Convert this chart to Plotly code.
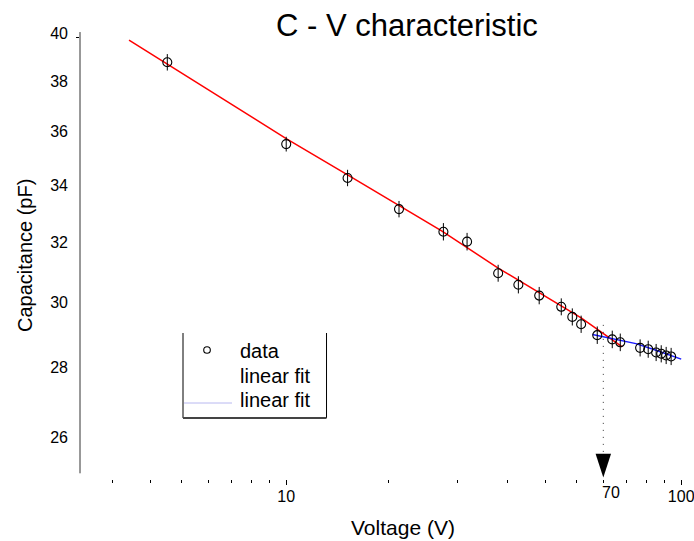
import math
import plotly.graph_objects as go

# ---------------- data ----------------
voltage = [5.0, 10.0, 14.3, 19.3, 25.0, 28.7, 34.4, 38.7, 43.7, 49.7, 53.0,
           55.8, 61.3, 66.9, 70.1, 78.7, 82.5, 86.4, 89.0, 91.6, 94.3]
capacitance = [38.77, 35.53, 34.27, 33.15, 32.36, 32.02, 30.96, 30.58, 30.23,
               29.87, 29.55, 29.32, 28.98, 28.85, 28.76, 28.59, 28.55, 28.45,
               28.41, 28.36, 28.33]
cap_err = [0.34, 0.28, 0.30, 0.29, 0.30, 0.30, 0.28, 0.28, 0.28, 0.27, 0.27,
           0.27, 0.27, 0.27, 0.27, 0.26, 0.26, 0.26, 0.26, 0.26, 0.26]

fit1_v = [4.0, 10.0, 14.3, 24.8, 34.4, 43.5, 55.8, 70.9]
fit1_c = [39.70, 35.74, 34.38, 32.38, 31.13, 30.34, 29.52, 28.62]

fit2_v = [59.6, 76.8, 86.3, 100.0]
fit2_c = [29.00, 28.72, 28.52, 28.25]

knee_v = 63.5
knee_label = "70"
knee_c_top = 29.30
knee_c_bottom = 25.31
arrow_tip_c = 24.90

x_major = [10, 100]
x_major_text = ["10", "100"]
x_minor_base = [4, 5, 6, 7, 8, 9, 10, 20, 30, 40, 50, 60, 70, 80, 90, 100]
minor_shift = 0.906
y_major = [26, 28, 30, 32, 34, 36, 38, 40]
y_minor = [39.79]
y_spine_bottom = 25.01

FONT = "Liberation Sans, Arial, sans-serif"

# plot-area geometry
X_RANGE = [0.47795, 2.002]
Y_RANGE = [1.39548, 1.60252]

fig = go.Figure()

fig.add_trace(go.Scatter(
    x=fit1_v, y=fit1_c, mode="lines",
    line=dict(color="#ff0000", width=1.5), showlegend=False))
fig.add_trace(go.Scatter(
    x=fit2_v, y=fit2_c, mode="lines",
    line=dict(color="#1a1aff", width=1.5), showlegend=False))
fig.add_trace(go.Scatter(
    x=voltage, y=capacitance, mode="markers",
    marker=dict(symbol="circle-open", size=9, color="black",
                line=dict(width=1.1, color="black")),
    error_y=dict(type="data", array=cap_err, visible=True,
                 color="black", thickness=1, width=0),
    showlegend=False))

# knee marker: dotted drop line + arrow head
fig.add_trace(go.Scatter(
    x=[knee_v, knee_v], y=[knee_c_top, knee_c_bottom], mode="lines",
    line=dict(color="#333333", width=1, dash="1px,6px"),
    showlegend=False, cliponaxis=False))
fig.add_trace(go.Scatter(
    x=[knee_v], y=[arrow_tip_c], mode="markers",
    marker=dict(symbol="arrow", angle=180, size=25, color="black",
                line=dict(width=0)),
    showlegend=False, cliponaxis=False))

fig.add_annotation(x=math.log10(knee_v), xref="x", xshift=8,
                   y=-0.0291, yref="paper", yanchor="middle",
                   text=knee_label, showarrow=False,
                   font=dict(family=FONT, size=16, color="black"))

# y-axis spine (stops at the 25 pF level, above the x ticks)
fig.add_shape(type="line", xref="paper", yref="y",
              x0=0, x1=0, y0=y_spine_bottom, y1=40.04,
              line=dict(color="#333333", width=1))

# ---------------- legend (drawn by hand) ----------------
box = dict(x0=0.1711, x1=0.4095, y0=0.1365, y1=0.3266)
fig.add_shape(type="line", xref="paper", yref="paper",
              x0=box["x0"], x1=box["x0"], y0=box["y0"], y1=box["y1"],
              line=dict(color="black", width=1))
fig.add_shape(type="line", xref="paper", yref="paper",
              x0=box["x1"], x1=box["x1"], y0=box["y0"], y1=box["y1"],
              line=dict(color="black", width=1))
fig.add_shape(type="line", xref="paper", yref="paper",
              x0=box["x0"], x1=box["x1"], y0=box["y0"], y1=box["y0"],
              line=dict(color="#444444", width=2))
fig.add_shape(type="line", xref="paper", yref="paper",
              x0=0.1728, x1=0.2525, y0=0.1700, y1=0.1700,
              line=dict(color="#b8b8f0", width=1))
fig.add_shape(type="circle", xref="paper", yref="paper",
              x0=0.2110 - 0.0055, x1=0.2110 + 0.0055,
              y0=0.2886 - 0.0074, y1=0.2886 + 0.0074,
              line=dict(color="black", width=1.1))
for label, ypos in [("data", 0.2864), ("linear fit", 0.2304), ("linear fit", 0.1767)]:
    fig.add_annotation(x=0.2625, y=ypos, xref="paper", yref="paper",
                       xanchor="left", yanchor="middle", text=label,
                       showarrow=False,
                       font=dict(family=FONT, size=20, color="black"))

# ---------------- axis titles ----------------
fig.add_annotation(x=-0.0914, y=0.501, xref="paper", yref="paper",
                   text="Capacitance (pF)", textangle=-90, showarrow=False,
                   xanchor="center", yanchor="middle",
                   font=dict(family=FONT, size=20, color="black"))
fig.add_annotation(x=0.5365, y=-0.1074, xref="paper", yref="paper",
                   text="Voltage (V)", showarrow=False,
                   xanchor="center", yanchor="middle",
                   font=dict(family=FONT, size=21, color="black"))

fig.update_layout(
    width=694, height=541,
    margin=dict(l=80, r=12, t=32, b=62, autoexpand=False),
    paper_bgcolor="white", plot_bgcolor="white",
    font=dict(family=FONT, color="black"),
    title=dict(text="C - V characteristic", x=0.543, xref="paper",
               xanchor="center", y=0.954, yref="container", yanchor="middle",
               font=dict(family=FONT, size=31, color="black")),
    showlegend=False,
)

fig.update_xaxes(
    type="log", range=X_RANGE, automargin=False,
    tickmode="array", tickvals=x_major, ticktext=x_major_text,
    ticks="outside", ticklen=5, tickwidth=1, tickcolor="black",
    ticklabelstandoff=-2, ticklabeloverflow="allow",
    tickfont=dict(family=FONT, size=16, color="black"),
    showline=False, showgrid=False, zeroline=False,
    minor=dict(tickmode="array",
               tickvals=[v * minor_shift for v in x_minor_base],
               ticks="outside", ticklen=3, tickwidth=1, tickcolor="black",
               showgrid=False),
)
fig.update_yaxes(
    type="log", range=Y_RANGE, automargin=False,
    tickmode="array", tickvals=y_major, ticktext=[str(v) for v in y_major],
    ticks="", ticklabelstandoff=11,
    tickfont=dict(family=FONT, size=16, color="black"),
    showline=False,
    showgrid=False, zeroline=False,
    minor=dict(tickmode="array", tickvals=y_minor, ticks="outside",
               ticklen=3, tickwidth=1, tickcolor="black", showgrid=False),
)

fig.write_html("out.html")
